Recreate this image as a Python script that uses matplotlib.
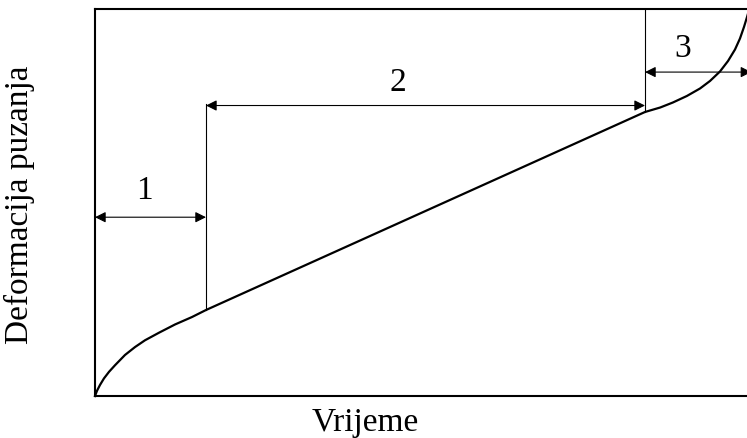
import matplotlib.pyplot as plt

# creep curve (time 0..100, strain 0..100)
primary_t = [0, 0.30, 0.75, 1.35, 2.11, 3.01, 4.51, 6.02, 7.52, 9.62, 12.03, 14.59, 16.69]
primary_e = [0, 1.35, 2.85, 4.55, 6.25, 7.95, 10.6, 12.65, 14.4, 16.35, 18.48, 20.41, 22.22]
secondary_t = [16.69, 82.71]
secondary_e = [22.22, 73.39]
tertiary_t = [82.71, 85.0, 86.9, 89.0, 90.98, 92.48, 93.98, 95.19, 96.24, 96.99, 97.59, 98.05, 98.35, 98.42]
tertiary_e = [73.39, 74.55, 75.84, 77.52, 79.46, 81.40, 83.85, 86.56, 89.53, 92.38, 95.35, 97.93, 99.74, 100]

# stages: name, start, end, arrow height, label position
stage_names = ["1", "2", "3"]
stage_start = [0, 16.69, 82.71]
stage_end = [16.69, 82.71, 98.7]
arrow_level = [46.2, 75.06, 83.7]
label_pos = [(7.5, 53.3), (45.6, 81.3), (88.4, 90.0)]

t = primary_t + secondary_t[1:] + tertiary_t[1:]
e = primary_e + secondary_e[1:] + tertiary_e[1:]

fig = plt.figure(figsize=(7.47, 4.39), dpi=100)
ax = fig.add_axes([95 / 747, 42 / 439, 665 / 747, 387 / 439])
ax.set_xlim(0, 100)
ax.set_ylim(0, 100)
ax.set_xticks([])
ax.set_yticks([])
for s in ax.spines.values():
    s.set_linewidth(1.5)

ax.plot(t, e, color="black", lw=1.6, solid_joinstyle="round", clip_on=False)

# boundaries between stages
ax.plot([stage_start[1]] * 2, [secondary_e[0], 75.45], color="black", lw=0.8)
ax.plot([stage_start[2]] * 2, [secondary_e[1], 100], color="black", lw=0.8)

font = dict(family="Liberation Serif", color="black")
for name, x0, x1, y, pos in zip(stage_names, stage_start, stage_end, arrow_level, label_pos):
    ax.annotate("", xy=(x1, y), xytext=(x0, y),
                arrowprops=dict(arrowstyle="<|-|>", color="black", lw=0.8,
                                mutation_scale=16, shrinkA=0, shrinkB=0),
                annotation_clip=False)
    ax.text(pos[0], pos[1], name, ha="center", va="center", fontsize=24, **font)

fig.text(365 / 747, 1 - 423 / 439, "Vrijeme", ha="center", va="center", fontsize=24, **font)
fig.text(19 / 747, 1 - 205 / 439, "Deformacija puzanja", ha="center", va="center",
         rotation=90, fontsize=24, **font)

fig.savefig("out.png", dpi=100)
